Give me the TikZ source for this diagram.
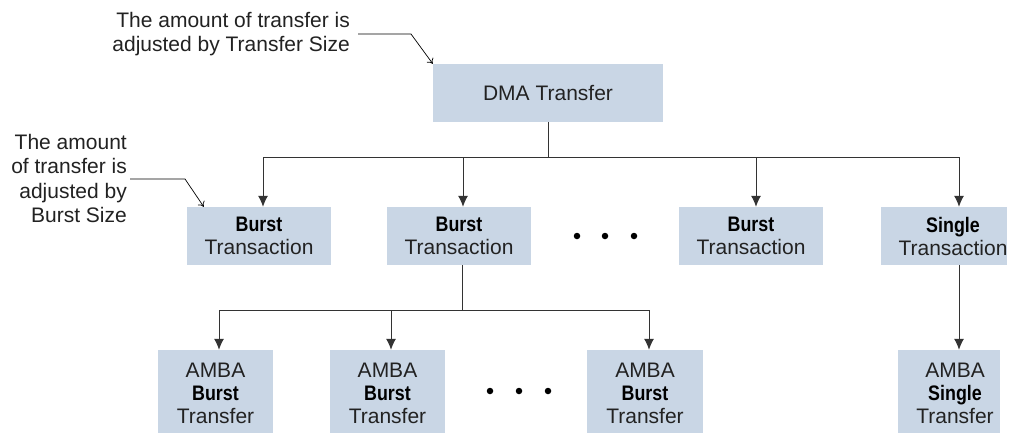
\documentclass[tikz,border=0pt]{standalone}
\usepackage{fontspec}
\usepackage{graphicx}
\setmainfont{Liberation Sans}
\usetikzlibrary{arrows.meta}
\definecolor{boxfill}{HTML}{C9D6E5}
\definecolor{txt}{HTML}{222222}
\definecolor{conn}{HTML}{333333}
\newcommand\bw[1]{{\bfseries\color{black}\scalebox{0.85}[1]{#1}}}
\tikzset{
  box/.style={fill=boxfill, draw=none, inner sep=0pt, align=center, text=txt,
    font=\fontsize{21}{23}\selectfont},
  plain/.style={inner sep=0pt, align=center, text=txt, font=\fontsize{21}{23}\selectfont},
  note/.style={inner sep=0pt, align=right, text=txt, font=\fontsize{21}{24.2}\selectfont},
  link/.style={draw=conn, line width=1pt},
  linkarrow/.style={link, -{Latex[length=11pt,width=10pt]}},
  notearrow/.style={draw=black, line width=0.7pt, -{To[length=5pt,width=8pt]}},
  dot/.style={circle, fill=black, inner sep=0pt, minimum size=6.5pt}
}
\begin{document}
\begin{tikzpicture}[x=1pt,y=-1pt]
\clip (0,0) rectangle (1012,432);
\fill[white] (0,0) rectangle (1012,432);

% top level
\node[box, minimum width=230pt, minimum height=58pt] (dma) at (548,93) {DMA Transfer};

% transactions
\node[box, minimum width=144pt, minimum height=58pt] (t1) at (259,236) {\bw{Burst}\\Transaction};
\node[box, minimum width=144pt, minimum height=58pt] (t2) at (459,236) {\bw{Burst}\\Transaction};
\node[box, minimum width=144pt, minimum height=58pt] (t3) at (751,236) {\bw{Burst}\\Transaction};
\node[box, minimum width=126pt, minimum height=58pt] (t4) at (944,236) {};
\node[plain] (t4text) at (953,236) {\bw{Single}\\Transaction};

\node[dot] (d1) at (577,236) {};
\node[dot] (d2) at (605,236) {};
\node[dot] (d3) at (634,236) {};

% AMBA transfers
\node[box, minimum width=115pt, minimum height=86pt] (a1) at (215.5,393) {AMBA\\\bw{Burst}\\Transfer};
\node[box, minimum width=115pt, minimum height=86pt] (a2) at (387.5,393) {AMBA\\\bw{Burst}\\Transfer};
\node[box, minimum width=116pt, minimum height=86pt] (a3) at (645,393) {AMBA\\\bw{Burst}\\Transfer};
\node[box, minimum width=102pt, minimum height=86pt] (a4) at (949,393) {};
\node[plain] (a4text) at (955,393) {AMBA\\\bw{Single}\\Transfer};

\node[dot] (e1) at (490,391) {};
\node[dot] (e2) at (519,391) {};
\node[dot] (e3) at (548,391) {};

% bus coordinates
\coordinate (b1) at (263,157);
\coordinate (b2) at (463,157);
\coordinate (b3) at (756,157);
\coordinate (b4) at (959,157);
\coordinate (c0) at (462,310);
\coordinate (c1) at (219,310);
\coordinate (c2) at (391,310);
\coordinate (c3) at (649,310);

% first level connectors
\draw[link] (dma.south) -- (dma.south |- b1);
\draw[link] (b1) -- (b4);
\draw[linkarrow] (b1) -- (b1 |- t1.north);
\draw[linkarrow] (b2) -- (b2 |- t2.north);
\draw[linkarrow] (b3) -- (b3 |- t3.north);
\draw[linkarrow] (b4) -- (b4 |- t4.north);

% second level connectors
\draw[link] (c0 |- t2.south) -- (c0);
\draw[link] (c1) -- (c3);
\draw[linkarrow] (c1) -- (c1 |- a1.north);
\draw[linkarrow] (c2) -- (c2 |- a2.north);
\draw[linkarrow] (c3) -- (c3 |- a3.north);
\draw[linkarrow] (b4 |- t4.south) -- (b4 |- a4.north);

% annotations
\node[note, anchor=east] (n1) at (350,34) {The amount of transfer is\\adjusted by Transfer Size};
\node[note, anchor=east] (n2) at (127,178.5) {The amount\\of transfer is\\adjusted by\\Burst Size};
\coordinate (n1k) at (411,34);
\coordinate (n2k) at (185,179);
\draw[notearrow] ([xshift=8pt]n1.east) -- (n1k) -- (dma.north west);
\draw[notearrow] ([xshift=3pt]n2.east |- n2k) -- (n2k) -- ([xshift=17pt]t1.north west);
\end{tikzpicture}
\end{document}
